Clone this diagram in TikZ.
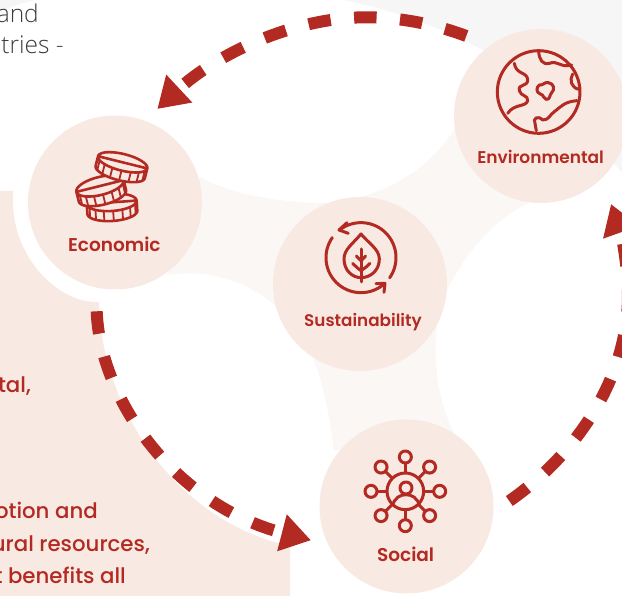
\documentclass[tikz,border=0pt]{standalone}
\usepackage{fontspec}
\usetikzlibrary{arrows.meta,calc}
\setmainfont{Poppins}
\newfontfamily\labelfont{Poppins SemiBold}
\newfontfamily\panelfont{Poppins Medium}
\newfontfamily\bodyfont{Open Sans Light}
\definecolor{brick}{HTML}{B22A21}
\definecolor{peach}{HTML}{F8E9E3}
\definecolor{pale}{HTML}{FBF7F4}
\definecolor{mist}{HTML}{F6F6F6}
\definecolor{inkgrey}{HTML}{3C3C3C}
\tikzset{
  pillar/.style={circle,fill=peach,minimum size=174pt,inner sep=0pt},
  pillarlabel/.style={anchor=base,text=brick,inner sep=0pt},
  paneltext/.style={anchor=base east,text=brick,font=\panelfont\fontsize{21.3}{24}\selectfont,inner sep=0pt},
  introtext/.style={anchor=base east,text=inkgrey,font=\bodyfont\fontsize{24.5}{28}\selectfont,inner sep=0pt},
  loopline/.style={draw=brick,line width=12pt,dash pattern=on 22.5pt off 23.5pt,
    -{Triangle[length=30pt,width=36pt,fill=brick]}},
  icon/.style={draw=brick,line width=3pt,line cap=round,line join=round},
}
\newcommand{\coinicon}[6]{%
  \begin{scope}[shift={(#1,#2)},rotate=#5]
    \draw[icon,line width=2.6pt,fill=peach] (-#3,0) -- (-#3,#6)
      -- plot[domain=180:0,samples=40] ({#3*cos(\x)},{#6+#4*sin(\x)}) -- (#3,0)
      -- plot[domain=360:0,samples=60] ({#3*cos(\x)},{#4*sin(\x)}) -- cycle;
    \foreach \a in {22,44,66,88,110,132,154}{
      \draw[icon,line width=1.8pt,line cap=butt] ({#3*cos(\a)},{#4*sin(\a)}) -- ({#3*cos(\a)},{#6+#4*sin(\a)});
    }
  \end{scope}}
\begin{document}
\begin{tikzpicture}[x=1pt,y=-1pt]
\useasboundingbox (0,0) rectangle (622,596);
\clip (0,0) rectangle (622,596);
% backgrounds
\fill[mist] (344,0) .. controls (400,12) and (450,30) .. (500,60)
  .. controls (550,90) and (590,135) .. (622,173) -- (622,0) -- cycle;
\fill[mist] (0,0) -- (35,0) .. controls (22,3) and (10,7) .. (0,12) -- cycle;
\fill[peach] (0,191) -- (13,191) -- (13,202) .. controls (13,258) and (59,304) .. (99,302)
  .. controls (100,400) and (170,520) .. (290,546) -- (290,596) -- (0,596) -- cycle;
\fill[pale] (199,177) .. controls (235,195) and (270,200) .. (311,203)
  .. controls (375,205) and (430,170) .. (455,128) -- (535,200)
  .. controls (500,215) and (470,245) .. (447,290)
  .. controls (433,320) and (428,380) .. (454,433) -- (334,451)
  .. controls (330,420) and (325,390) .. (314,360)
  .. controls (290,300) and (230,265) .. (167,275) -- cycle;
% texts
\node[introtext] (t1) at (39,23) {and};
\node[introtext] (t2) at (64,54) {tries -};
\node[paneltext] (p1) at (31,392) {tal,};
\node[paneltext] (p2) at (98,518) {otion and};
\node[paneltext] (p3) at (150,551) {ural resources,};
\node[paneltext] (p4) at (126,583) {t benefits all};
% circles
\node[pillar] (econ) at (115,202.5) {};
\node[pillar] (env) at (541,116) {};
\node[pillar] (sus) at (360,284) {};
\node[pillar] (soc) at (406.5,506.5) {};
\node[pillarlabel,font=\labelfont\fontsize{18.5}{20}\selectfont] (econl) at (114.3,251.5) {Economic};
\node[pillarlabel,font=\labelfont\fontsize{17}{20}\selectfont] (envl) at (540.7,164) {Environmental};
\node[pillarlabel,font=\labelfont\fontsize{16.8}{20}\selectfont] (susl) at (363,327) {Sustainability};
\node[pillarlabel,font=\labelfont\fontsize{18.5}{20}\selectfont] (socl) at (405.6,561.5) {Social};
% connectors
\coordinate (envOut) at ($(env)+(-74.7,-80)$);
\coordinate (topMid) at (366,17.3);
\coordinate (econIn) at ($(econ)+(42.3,-93.5)$);
\coordinate (econOut) at ($(econ)+(-18.3,108.8)$);
\coordinate (socIn) at ($(soc)+(-95.5,33.8)$);
\coordinate (socOut) at ($(soc)+(102.8,-5.5)$);
\coordinate (rightMid) at (628,295);
\coordinate (envIn) at ($(env)+(70,88)$);
\draw[loopline] (envOut) .. controls (434.5,24) and (400,17.3) .. (topMid)
  .. controls (291,17.3) and (213.5,56.6) .. (econIn);
\draw[loopline] (econOut) .. controls (100,400) and (175,505) .. (socIn);
\draw[loopline] (socOut) .. controls (577,454) and (628,378) .. (rightMid)
  .. controls (628,265) and (621,232) .. (envIn);
% coins
\begin{scope}[shift={(0,0)},scale=1/3]
  \coinicon{335}{607}{75}{26}{4}{30}
  \coinicon{300}{558}{73}{27}{14}{30}
  \coinicon{368}{487}{76}{25}{-14}{30}
\end{scope}
% earth
\begin{scope}[shift={(311,0)},scale=1/3]
  \draw[icon] (683,276) circle (124);
  \draw[icon] (610,190) .. controls (615,225) and (650,215) .. (650,240)
    .. controls (650,262) and (620,250) .. (625,272)
    .. controls (630,290) and (652,285) .. (650,302)
    .. controls (645,322) and (610,310) .. (590,340);
  \draw[icon] (683,155) .. controls (685,180) and (695,195) .. (715,190)
    .. controls (740,180) and (750,205) .. (782,195);
  \draw[icon] (785,222) .. controls (775,240) and (780,262) .. (803,268);
  \draw[icon] (798,302) .. controls (760,305) and (750,320) .. (730,335)
    .. controls (715,345) and (715,360) .. (695,360)
    .. controls (680,345) and (665,355) .. (672,370) -- (676,392);
  \draw[icon] (685,255) .. controls (695,258) and (700,245) .. (712,248)
    .. controls (730,250) and (732,270) .. (722,278)
    .. controls (715,285) and (718,300) .. (705,298)
    .. controls (695,295) and (700,285) .. (688,282)
    .. controls (675,278) and (675,262) .. (685,255) -- cycle;
\end{scope}
% leaf
\begin{scope}[shift={(311,0)},scale=1/3]
  \draw[icon] plot[domain=35:-128,samples=60] ({150+105*cos(\x)},{773+105*sin(\x)});
  \draw[icon] (108,668) -- (84,690) -- (112,700);
  \draw[icon] plot[domain=215:48,samples=60] ({150+105*cos(\x)},{773+105*sin(\x)});
  \draw[icon] (195,851) -- (222,850) -- (219,877);
  \draw[icon] (150,702) .. controls (125,732) and (99,748) .. (99,777)
    .. controls (99,812) and (125,833) .. (150,833)
    .. controls (178,833) and (205,812) .. (205,777)
    .. controls (205,748) and (175,732) .. (150,702) -- cycle;
  \draw[icon] (150,747) -- (150,846);
  \draw[icon] (136,768) -- (150,782) -- (164,768);
  \draw[icon] (125,790) .. controls (135,800) and (140,805) .. (150,812)
    .. controls (160,805) and (168,800) .. (177,790);
\end{scope}
% social
\begin{scope}[shift={(311,298)},scale=1/3]
  \draw[icon] (283,580) circle (55);
  \draw[icon] (285,570) circle (18);
  \draw[icon,line cap=butt] (245,622) .. controls (250,600) and (268,590) .. (285,590)
    .. controls (302,590) and (320,600) .. (325,622);
  \foreach \a in {0,45,...,315}{
    \draw[icon] ({283+103*cos(\a)},{580+103*sin(\a)}) circle (18);
    \draw[icon,line cap=butt] ({283+55*cos(\a)},{580+55*sin(\a)}) -- ({283+85*cos(\a)},{580+85*sin(\a)});
  }
\end{scope}
\end{tikzpicture}
\end{document}
